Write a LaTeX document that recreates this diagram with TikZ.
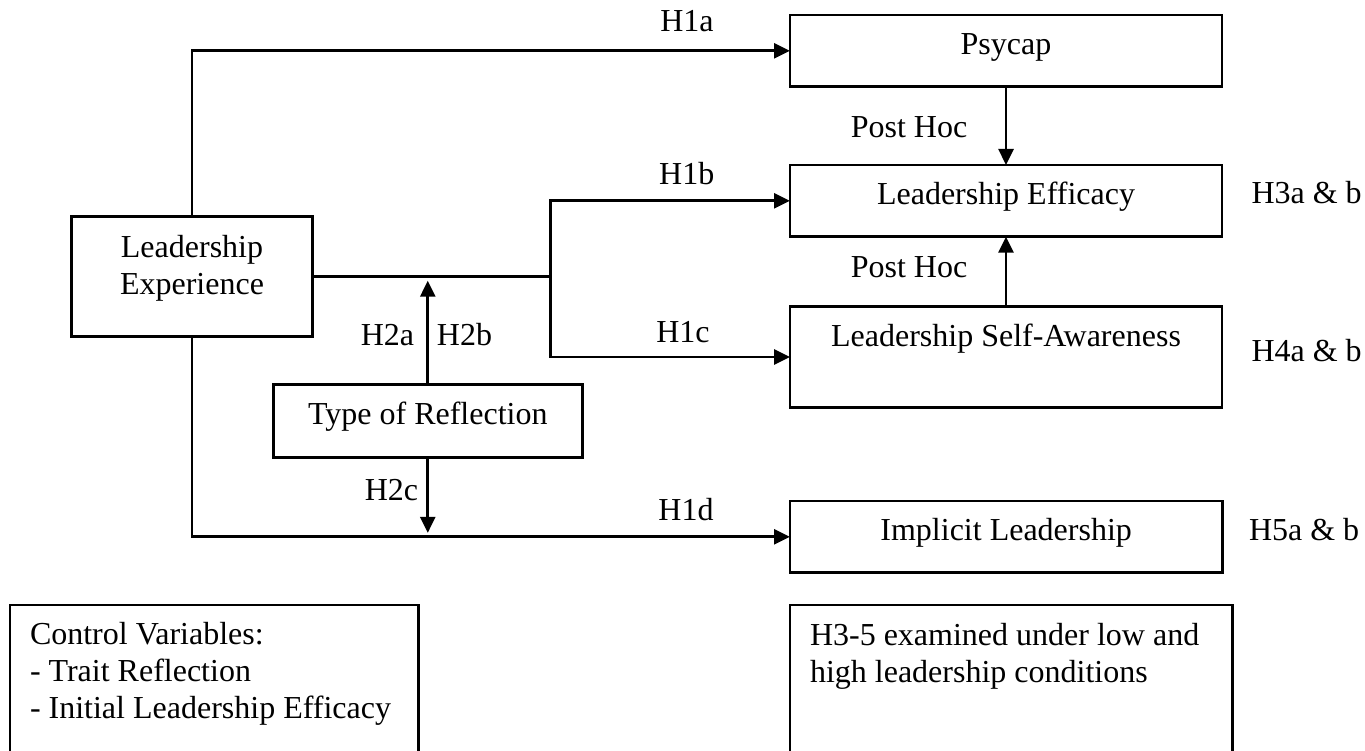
\documentclass[tikz,border=0pt]{standalone}
\usepackage{fontspec}
\setmainfont{Liberation Serif}
\usetikzlibrary{arrows.meta}
\begin{document}
\begin{tikzpicture}[x=0.5pt,y=-0.5pt,
  every node/.style={font=\fontsize{16}{18.5}\selectfont, inner sep=0pt, outer sep=0pt},
  box/.style={draw, line width=1.4pt, rectangle, text height=0.55em, text depth=0.23em},
  lbl/.style={anchor=base},
  conn/.style={line width=1.4pt},
  arr/.style={line width=1.4pt, -{Triangle[length=8pt,width=7.5pt]}}
]
\useasboundingbox (0,0) rectangle (1365,750);

% boxes
\node[box, minimum width=216pt, minimum height=35.85pt] (psy) at (1006,50.8) {Psycap};
\node[box, minimum width=216pt, minimum height=35.85pt] (eff) at (1006,200.8) {Leadership Efficacy};
\node[box, minimum width=216pt, minimum height=50.3pt] (sa) at (1006,357) {};
\node[anchor=base] (satext) at (1006,346.7) {Leadership Self-Awareness};
\node[box, minimum width=216.15pt, minimum height=35.85pt] (impl) at (1006.15,536.8) {Implicit Leadership};
\node[box, minimum width=120.3pt, minimum height=60pt] (le) at (192,276.7) {};
\node[align=center] (letext) at (192,268.1) {Leadership\\Experience};
\node[box, minimum width=154.5pt, minimum height=36.5pt] (tor) at (427.8,420.8) {Type of Reflection};
\node[box, minimum width=204.15pt, minimum height=76pt] (ctrl) at (214.15,681) {};
\node[anchor=north west, align=left] (ctrltext) at (30,622.5) {Control Variables:\\- Trait Reflection\\- Initial Leadership Efficacy};
\node[box, minimum width=221.15pt, minimum height=76pt] (note) at (1011.15,681) {};
\node[anchor=north west, align=left] (notetext) at (810,623.5) {H3-5 examined under low and\\high leadership conditions};

% connectors
\coordinate (split) at (550.7,276.7);
\draw[conn] (le.east) -- (split);
\draw[arr] (split) |- (eff.west);
\draw[arr] (split) |- (sa.west);
\draw[arr] (le.north) |- (psy.west);
\draw[arr] (le.south) |- (impl.west);
\draw[arr, shorten >=2pt] (tor.north) -- (tor.north |- le.east);
\draw[arr, shorten >=2pt] (tor.south) -- (tor.south |- impl.west);
\draw[arr] (psy.south) -- (eff.north);
\draw[arr] (sa.north) -- (eff.south);

% labels
\node[lbl] (h1a) at (687,31.7) {H1a};
\node[lbl] (h1b) at (686.7,184.3) {H1b};
\node[lbl] (h1c) at (683,342.7) {H1c};
\node[lbl] (h1d) at (686,520) {H1d};
\node[lbl] (h2a) at (387.5,345) {H2a};
\node[lbl] (h2b) at (464.5,345) {H2b};
\node[lbl] (h2c) at (391.5,500.7) {H2c};
\node[lbl] (ph1) at (909,137) {Post Hoc};
\node[lbl] (ph2) at (909,277) {Post Hoc};
\node[anchor=base west] (h3) at (1251.5,203) {H3a \& b};
\node[anchor=base west] (h4) at (1251.5,361.7) {H4a \& b};
\node[anchor=base west] (h5) at (1249,540.7) {H5a \& b};
\end{tikzpicture}
\end{document}
